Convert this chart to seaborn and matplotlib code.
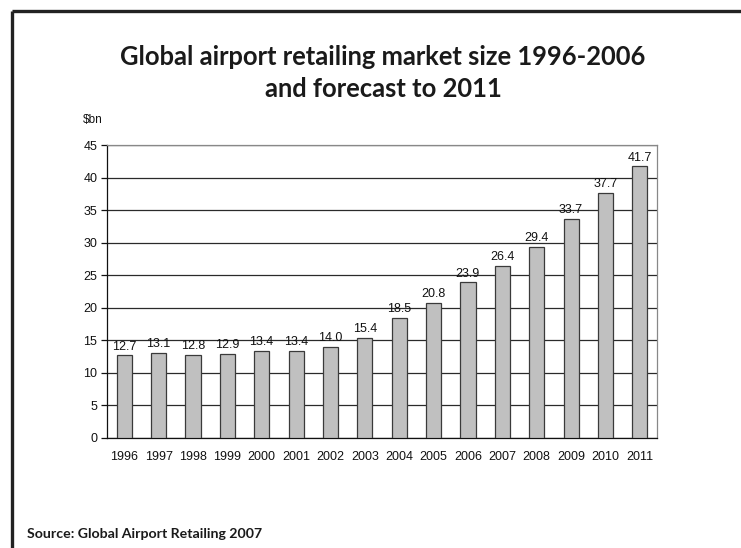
import matplotlib
matplotlib.use("Agg")
import matplotlib.pyplot as plt
from matplotlib.lines import Line2D
import seaborn as sns
import pandas as pd

years = ["1996", "1997", "1998", "1999", "2000", "2001", "2002", "2003",
         "2004", "2005", "2006", "2007", "2008", "2009", "2010", "2011"]
market_size = [12.7, 13.1, 12.8, 12.9, 13.4, 13.4, 14.0, 15.4,
               18.5, 20.8, 23.9, 26.4, 29.4, 33.7, 37.7, 41.7]
y_ticks = [0, 5, 10, 15, 20, 25, 30, 35, 40, 45]

title_lines = ["Global airport retailing market size 1996-2006", "and forecast to 2011"]
unit_text = "$bn"
source_text = "Source: Global Airport Retailing 2007"

sns.set_theme(style="white")
plt.rcParams["font.family"] = ["Liberation Sans", "DejaVu Sans"]

df = pd.DataFrame({"year": years, "value": market_size})

W, H = 741, 548
fig = plt.figure(figsize=(W / 100, H / 100), dpi=100)
ax = fig.add_axes([107 / W, 1 - 438 / H, 550 / W, 293 / H])

ax.set_axisbelow(True)
ax.yaxis.grid(True, color="#2a2a2a", linewidth=0.9)
ax.xaxis.grid(False)

sns.barplot(data=df, x="year", y="value", color="#c0c0c0", width=0.44,
            edgecolor="#3a3a3a", linewidth=0.9, saturation=1, ax=ax, zorder=3)

for i, v in enumerate(market_size):
    ax.annotate(f"{v:.1f}", (i, v), xytext=(0, 2), textcoords="offset points",
                ha="center", va="bottom", fontsize=9, color="#111111")

ax.set_ylim(0, 45)
ax.set_yticks(y_ticks)
ax.set_xlim(-0.5, len(years) - 0.5)
ax.set_xlabel("")
ax.set_ylabel("")

# category boundaries carry the tick marks; labels sit at the centres
ax.set_xticks(range(len(years)))
ax.set_xticklabels(years)
ax.set_xticks([i - 0.5 for i in range(len(years) + 1)], minor=True)
ax.tick_params(axis="x", which="major", length=0, pad=9, labelsize=9, colors="#111111")
ax.tick_params(axis="x", which="minor", length=4, width=0.9, direction="out", color="#111111")
ax.tick_params(axis="y", which="major", length=4, width=0.9, direction="out",
               pad=3, labelsize=9, colors="#111111", left=True)

for side in ("left", "bottom"):
    ax.spines[side].set_color("#111111")
    ax.spines[side].set_linewidth(0.9)
for side in ("top", "right"):
    ax.spines[side].set_color("#888888")
    ax.spines[side].set_linewidth(0.9)

fig.text(83 / W, 1 - 120 / H, unit_text, ha="left", va="center",
         fontsize=8.5, color="#111111")

for line, baseline in zip(title_lines, (65, 97)):
    fig.text(383 / W, 1 - baseline / H, line, ha="center", va="baseline",
             fontsize=18.4, fontweight="bold", family=["Lato", "DejaVu Sans"],
             color="#1a1a1a")

fig.text(27 / W, 1 - 534 / H, source_text, ha="left", va="center",
         fontsize=10.2, fontweight="bold", family=["Lato", "DejaVu Sans"],
         color="#1a1a1a")

# page frame: top and left rules
fig.add_artist(Line2D([12 / W, 12 / W], [0, 1 - 11 / H], transform=fig.transFigure,
                      color="#222222", linewidth=2.4, solid_capstyle="butt"))
fig.add_artist(Line2D([12 / W, 1], [1 - 11 / H, 1 - 11 / H], transform=fig.transFigure,
                      color="#222222", linewidth=2.4, solid_capstyle="butt"))

fig.savefig("out.png", dpi=100)
